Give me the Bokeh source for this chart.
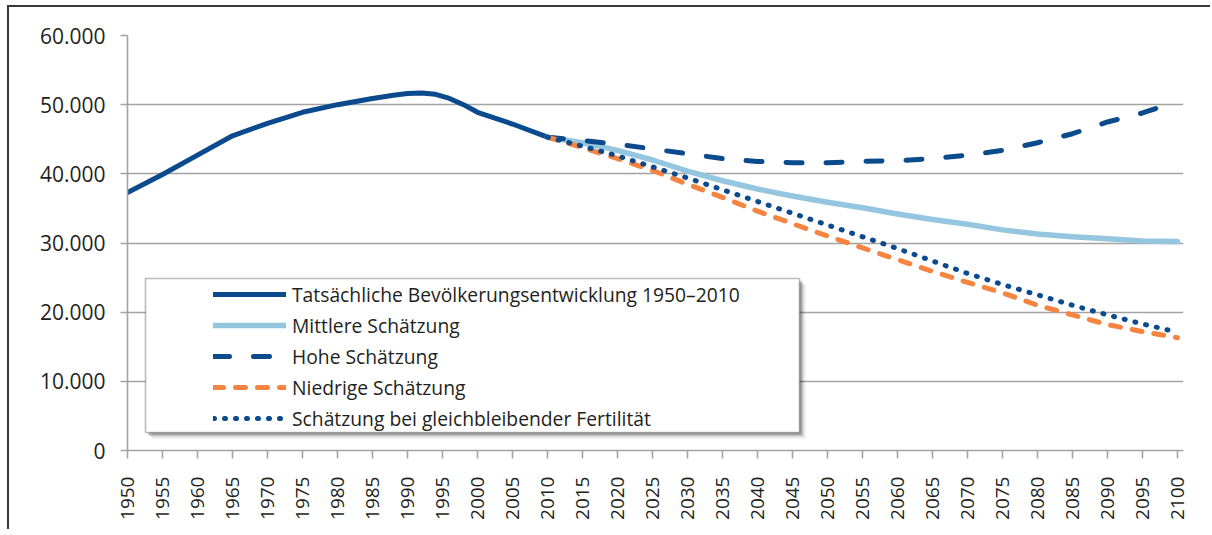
import math
from bokeh.plotting import figure
from bokeh.models import Range1d, FixedTicker, Legend, LegendItem, BoxAnnotation
from bokeh.embed import file_html
from bokeh.resources import INLINE

# ---------------- data ----------------
hist_years = [1950, 1955, 1960, 1965, 1970, 1975, 1980, 1985, 1988, 1990, 1992,
              1994, 1996, 1998, 2000, 2005, 2010]
hist_values = [37300, 39900, 42700, 45500, 47300, 48900, 50000, 50900, 51350, 51600, 51700,
               51500, 50900, 50000, 48900, 47200, 45300]

proj_years = [2010, 2015, 2020, 2025, 2030, 2035, 2040, 2045, 2050, 2055,
              2060, 2065, 2070, 2075, 2080, 2085, 2090, 2095, 2100]
mid_values = [45300, 44500, 43400, 42000, 40400, 39000, 37800, 36800, 35900, 35100,
              34200, 33400, 32700, 31900, 31300, 30900, 30600, 30300, 30200]
high_values = [45300, 44800, 44300, 43600, 42900, 42200, 41800, 41600, 41600, 41800,
               41900, 42200, 42700, 43400, 44500, 45800, 47500, 48800, 50500]
low_values = [45300, 43800, 42200, 40500, 38500, 36600, 34600, 32800, 31000, 29300,
              27600, 25900, 24300, 22800, 21000, 19600, 18200, 17200, 16300]
const_values = [45300, 44000, 42600, 41000, 39400, 37700, 36000, 34300, 32600, 30900,
                29200, 27400, 25600, 24000, 22500, 21000, 19600, 18300, 17100]

series_names = [
    "Tatsächliche Bevölkerungsentwicklung 1950–2010",
    "Mittlere Schätzung",
    "Hohe Schätzung",
    "Niedrige Schätzung",
    "Schätzung bei gleichbleibender Fertilität",
]

x_ticks = list(range(1950, 2101, 5))
x_labels = [str(t) for t in x_ticks]
y_ticks = [0, 10000, 20000, 30000, 40000, 50000, 60000]
y_labels = ["0", "10.000", "20.000", "30.000", "40.000", "50.000", "60.000"]

# ---------------- styling ----------------
FONT = "Open Sans"
TEXT = "#231f20"
GRID = "#a3a3a3"
DARK = "#0b4a8c"
LIGHT = "#95c6df"
ORANGE = "#f58440"

X0, X1 = 1950, 1950 + 1056 / 7.0
Y0, Y1 = 0, 60000
FRAME_W, FRAME_H = 1056, 415

p = figure(width=1203, height=524,
           x_range=Range1d(X0, X1), y_range=Range1d(Y0, Y1),
           output_backend="svg", toolbar_location=None,
           min_border_left=118, min_border_right=29,
           min_border_top=28, min_border_bottom=81)
p.styles = {"border-top": "2px solid #3a3a3a", "border-left": "2px solid #3a3a3a",
            "margin-top": "5px", "margin-left": "7px"}
p.outline_line_color = None
p.background_fill_color = "white"
p.border_fill_color = "white"

p.xgrid.visible = False
p.ygrid.grid_line_color = GRID
p.ygrid.grid_line_width = 1.6

p.xaxis.ticker = FixedTicker(ticks=x_ticks)
p.xaxis.major_label_overrides = dict(zip(x_ticks, x_labels))
p.xaxis.major_label_orientation = math.pi / 2
p.yaxis.ticker = FixedTicker(ticks=y_ticks)
p.yaxis.major_label_overrides = dict(zip(y_ticks, y_labels))

for ax in (p.xaxis, p.yaxis):
    ax.axis_line_color = GRID
    ax.axis_line_width = 1.6
    ax.major_tick_line_color = GRID
    ax.major_tick_line_width = 1.6
    ax.major_tick_in = 0
    ax.minor_tick_line_color = None
    ax.major_label_text_font = FONT
    ax.major_label_text_color = TEXT
p.xaxis.major_tick_out = 8
p.yaxis.major_tick_out = 7
p.xaxis.major_label_text_font_size = "19px"
p.yaxis.major_label_text_font_size = "21px"
p.xaxis.major_label_standoff = 18
p.yaxis.major_label_standoff = 15

# ---------------- lines ----------------
r_hist = p.line(hist_years, hist_values, line_color=DARK, line_width=5,
                line_join="round", line_cap="round")
r_mid = p.line(proj_years, mid_values, line_color=LIGHT, line_width=5.5,
               line_join="round", line_cap="round")
r_high = p.line(proj_years, high_values, line_color=DARK, line_width=5,
                line_dash="16 24", line_join="round", line_cap="round")
r_low = p.line(proj_years, low_values, line_color=ORANGE, line_width=5,
               line_dash="10 12", line_join="round", line_cap="round")
r_const = p.line(proj_years, const_values, line_color=DARK, line_width=5,
                 line_dash="1 10", line_join="round", line_cap="round")

# ---------------- legend box (layout helpers, px -> data) ----------------
def px_x(px):
    return X0 + (px - 127) * (X1 - X0) / FRAME_W

def px_y(py):
    return Y0 + (450 - py) * (Y1 - Y0) / FRAME_H

for off, alpha in ((6, 0.08), (4, 0.15), (2.5, 0.2)):
    p.add_layout(BoxAnnotation(left=px_x(145 + off), right=px_x(799 + off),
                               top=px_y(278 + off), bottom=px_y(432 + off),
                               fill_color="#000000", fill_alpha=alpha,
                               line_color=None))
p.add_layout(BoxAnnotation(left=px_x(145), right=px_x(799),
                           top=px_y(278), bottom=px_y(432),
                           fill_color="white", fill_alpha=1.0,
                           line_color="#231f20", line_width=1.6))

legend = Legend(items=[LegendItem(label=n, renderers=[r])
                       for n, r in zip(series_names, [r_hist, r_mid, r_high, r_low, r_const])],
                location=(86, 18), padding=0, margin=0, spacing=3,
                glyph_width=73, glyph_height=28, label_height=28,
                label_standoff=6,
                label_text_font=FONT, label_text_font_size="19.3px",
                label_text_color=TEXT,
                background_fill_alpha=0, border_line_color=None)
p.add_layout(legend, "center")

open("out.html", "w").write(file_html(p, INLINE))
